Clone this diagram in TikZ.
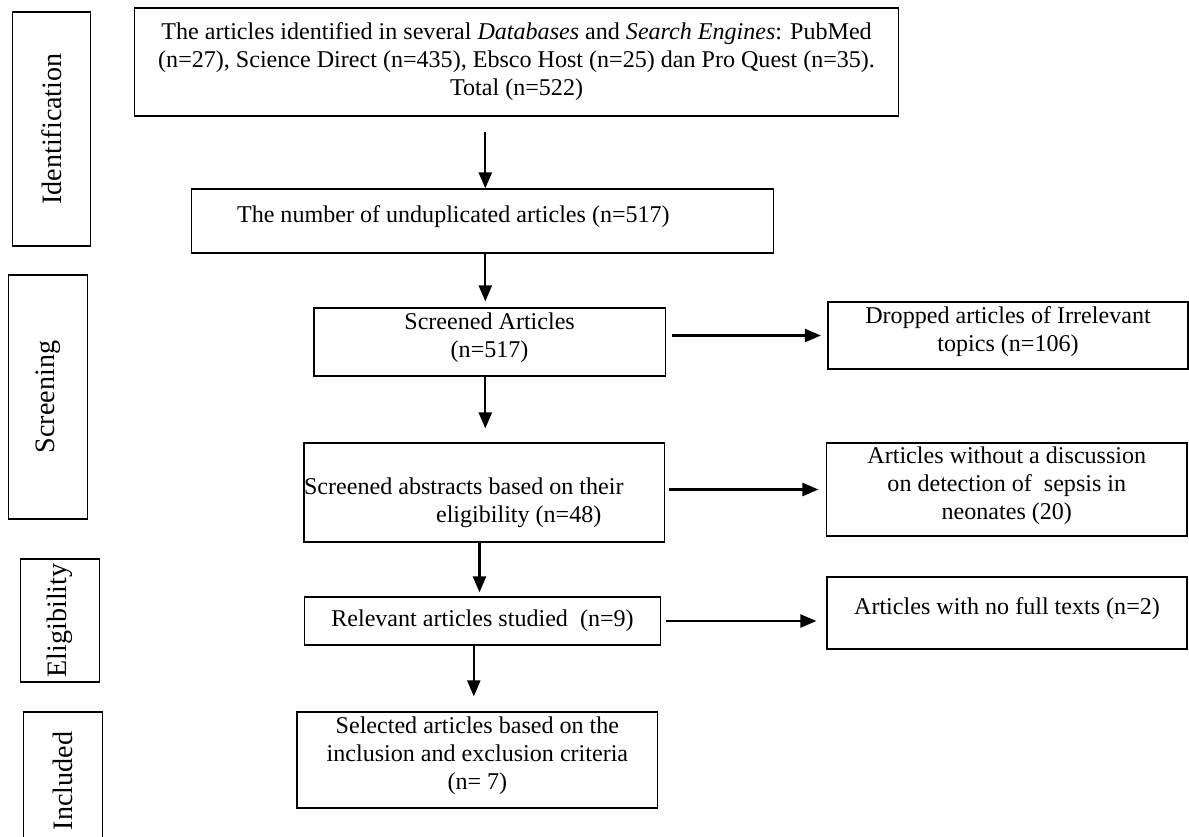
\documentclass[tikz,border=0pt]{standalone}
\usepackage{fontspec}
\setmainfont{Liberation Serif}
\usetikzlibrary{arrows.meta}

\begin{document}
\begin{tikzpicture}[x=0.02cm, y=-0.02cm,
  box/.style={draw, line width=0.7pt, inner sep=0pt, align=center, font=\fontsize{13.7}{15.9}\selectfont},
  raised/.style={box, text depth=7.5pt},
  stage/.style={box, rotate=90, font=\fontsize{16}{19}\selectfont},
  arr/.style={-{Triangle[length=0.32cm, width=0.26cm]}, line width=1.3pt}]
\useasboundingbox (0,0) rectangle (1189,836);
\node[box, minimum width=15.28cm, minimum height=2.16cm] (ident) at (516.6,62) {The articles identified in several \textit{Databases} and \textit{Search Engines}: PubMed\\(n=27), Science Direct (n=435), Ebsco Host (n=25) dan Pro Quest (n=35).\\Total (n=522)};
\node[raised, minimum width=11.64cm, minimum height=1.28cm, text width=9.82cm, align=flush left] (undup) at (482.5,221) {The number of unduplicated articles (n=517)};
\node[raised, minimum width=7.03cm, minimum height=1.36cm] (screen) at (489.6,342) {Screened Articles\\(n=517)};
\node[raised, minimum width=7.21cm, minimum height=1.98cm, text width=7.21cm, align=flush left] (abstr) at (484.3,492.5) {Screened abstracts based on their\\\hspace*{2.64cm}eligibility (n=48)};
\node[box, minimum width=7.13cm, minimum height=0.96cm] (relev) at (482.5,621) {Relevant articles studied\ \ (n=9)};
\node[raised, minimum width=7.22cm, minimum height=1.92cm] (select) at (477.4,760) {Selected articles based on the\\inclusion and exclusion criteria\\(n= 7)};
\node[raised, minimum width=7.20cm, minimum height=1.34cm] (irrel) at (1008,335.5) {Dropped articles of Irrelevant\\topics (n=106)};
\node[raised, minimum width=7.21cm, minimum height=1.86cm] (nodisc) at (1006.8,489.5) {Articles without a discussion\\on detection of\ \ sepsis in\\neonates (20)};
\node[raised, minimum width=7.20cm, minimum height=1.44cm] (nofull) at (1007,613) {Articles with no full texts (n=2)};
\node[stage, minimum width=4.68cm, minimum height=1.57cm] (sIdent) at (51.5,129) {Identification};
\node[stage, minimum width=4.88cm, minimum height=1.58cm] (sScreen) at (47.9,397) {Screening};
\node[stage, minimum width=2.46cm, minimum height=1.58cm] (sElig) at (59.7,620.5) {Eligibility};
\node[stage, minimum width=2.76cm, minimum height=1.58cm] (sIncl) at (62.8,781) {Included};
\coordinate (ax) at (485.3,0);
\coordinate (bx) at (479.5,0);
\coordinate (cx) at (473.8,0);
\draw[arr, shorten <=0.3cm] (ident.south -| ax) -- (undup.north -| ax);
\draw[arr, shorten >=0.12cm] (undup.south -| ax) -- (screen.north -| ax);
\draw[arr, shorten >=0.28cm] (screen.south -| ax) -- (abstr.north -| ax);
\draw[arr, shorten >=0.08cm] (abstr.south -| bx) -- (relev.north -| bx);
\draw[arr, shorten >=0.3cm] (relev.south -| cx) -- (select.north -| cx);
\draw[arr, shorten <=0.12cm, shorten >=0.13cm] (screen.east |- irrel.west) -- (irrel.west);
\draw[arr, shorten <=0.08cm, shorten >=0.15cm] (abstr.east |- nodisc.west) -- (nodisc.west);
\draw[arr, shorten <=0.1cm, shorten >=0.2cm] (relev.east) -- (relev.east -| nofull.west);
\end{tikzpicture}
\end{document}
